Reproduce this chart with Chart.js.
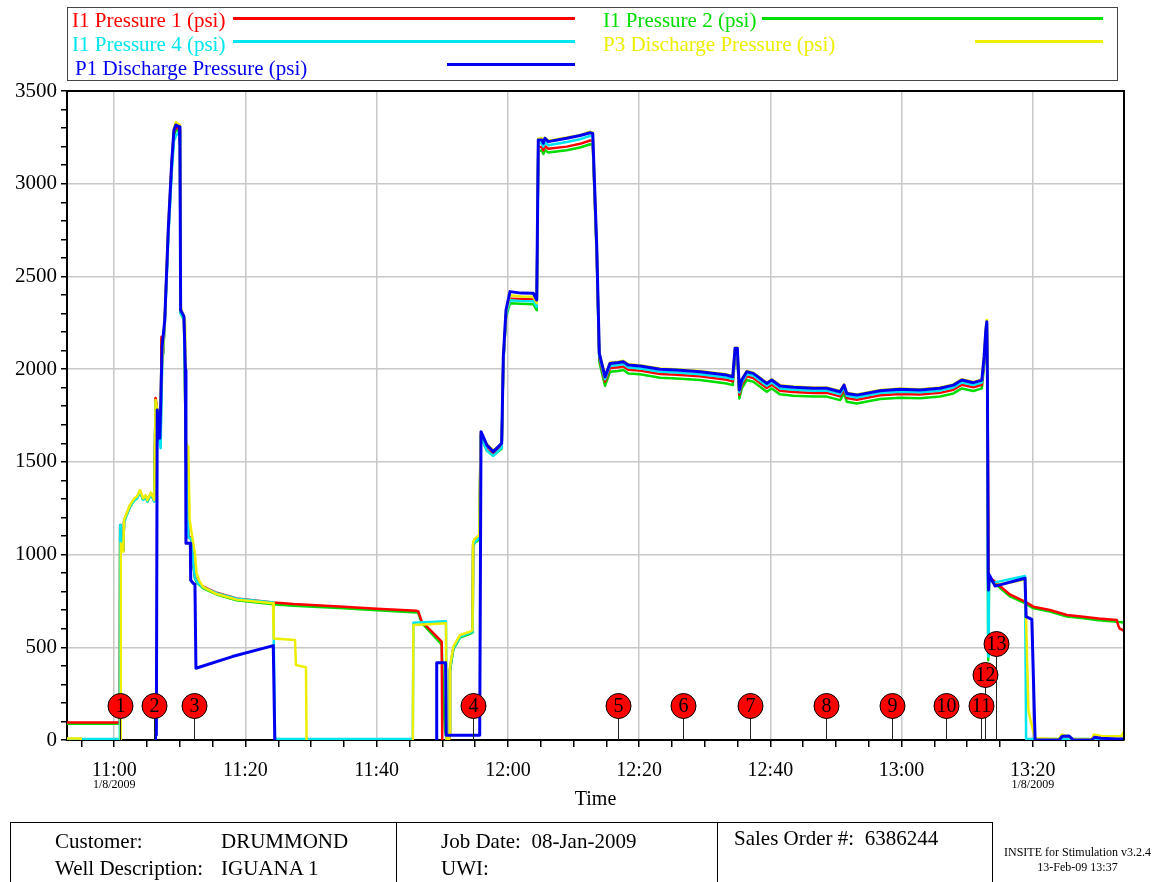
<!DOCTYPE html>
<html>
<head>
<meta charset="utf-8">
<title>Pressure chart</title>
<script src="https://cdn.jsdelivr.net/npm/chart.js@4.4.1/dist/chart.umd.min.js"></script>
<style>
  html, body { margin: 0; padding: 0; background: #fff; overflow: hidden; }
  #page { position: relative; width: 1163px; height: 882px; font-family: "Liberation Serif", "Times New Roman", serif; }
  #chart { position: absolute; left: 0; top: 0; }
  .abs { position: absolute; white-space: nowrap; }
  #legend { position: absolute; left: 67px; top: 7px; width: 1049px; height: 72px; border: 1.5px solid #444; }
  .lg { position: absolute; font-size: 21px; line-height: 24px; }
  .ll { position: absolute; height: 3px; }
  #info { position: absolute; left: 10px; top: 822px; width: 981px; height: 80px; border: 1px solid #000; }
  .cell { position: absolute; top: 0; height: 80px; border-left: 1px solid #000; }
  .it { position: absolute; font-size: 21px; line-height: 24px; }
</style>
</head>
<body>
<div id="page">
  <canvas id="chart" width="1163" height="882"></canvas>

  <div id="legend">
    <span class="lg" style="left:4px;top:0px;color:#ff0000">I1 Pressure 1 (psi)</span>
    <div class="ll" style="left:165px;top:9px;width:342px;background:#ff0000"></div>
    <span class="lg" style="left:535px;top:0px;color:#00dd00">I1 Pressure 2 (psi)</span>
    <div class="ll" style="left:694px;top:9px;width:341px;background:#00dd00"></div>

    <span class="lg" style="left:4px;top:24px;color:#00e5ee">I1 Pressure 4 (psi)</span>
    <div class="ll" style="left:165px;top:32px;width:342px;background:#00e5ee"></div>
    <span class="lg" style="left:535px;top:24px;color:#eeee00">P3 Discharge Pressure (psi)</span>
    <div class="ll" style="left:907px;top:32px;width:128px;background:#eeee00"></div>

    <span class="lg" style="left:7px;top:48px;color:#0000f0">P1 Discharge Pressure (psi)</span>
    <div class="ll" style="left:379px;top:55px;width:128px;background:#0000f0"></div>
  </div>

  <div id="info">
    <span class="it" style="left:44px;top:6px">Customer:</span>
    <span class="it" style="left:210px;top:6px">DRUMMOND</span>
    <span class="it" style="left:44px;top:33px">Well Description:</span>
    <span class="it" style="left:210px;top:33px">IGUANA 1</span>
    <div class="cell" style="left:385px"></div>
    <span class="it" style="left:430px;top:6px">Job Date:&nbsp; 08-Jan-2009</span>
    <span class="it" style="left:430px;top:33px">UWI:</span>
    <div class="cell" style="left:706px"></div>
    <span class="it" style="left:723px;top:3px">Sales Order #:&nbsp; 6386244</span>
  </div>
  <span class="abs" style="left:990px;top:845px;width:175px;text-align:center;font-size:12px;line-height:15px">INSITE for Stimulation v3.2.4<br>13-Feb-09 13:37</span>
</div>

<script>
// time values are minutes since midnight (660 = 11:00)
var xMin = 652.8, xMax = 813.9;

var i1Pressure1 = [
  [652.8,94],[660.85,94],[660.9,1160],[661.0,1075],[661.37,1025],[661.5,1180],[661.8,1210],[662.39,1262],[663.0,1295],[663.5,1310],
  [663.92,1342],[664.4,1300],[664.8,1316],[665.05,1290],[665.6,1330],[666.1,1290],[666.3,1845],[666.55,1780],[666.8,1640],[667.07,1600],
  [667.2,2175],[667.45,2090],[667.7,2265],[668.23,2740],[668.75,3100],[669.1,3280],[669.41,3305],[669.91,3295],[670.02,3195],[670.12,2310],
  [670.63,2275],[670.93,1550],[671.28,1100],[671.8,1085],[672.04,955],[672.3,880],[672.7,852],[673.57,827],[675.61,794],[678.66,763],
  [684.24,742],[687.29,733],[695,718],[700,708],[706.1,697],[706.34,693],[706.86,640],[709.65,540],[709.91,530],[710.0,-60],
  [711.0,-60],[711.07,35],[711.17,385],[711.68,497],[712.7,560],[714.22,580],[714.63,588],[714.7,1055],[714.98,1075],[715.64,1092],
  [715.85,1645],[716.8,1565],[717.77,1540],[719.05,1580],[719.3,2045],[719.71,2290],[720.32,2380],[722,2378],[723.87,2376],[724.39,2342],
  [724.63,3195],[725.15,3200],[725.4,3180],[725.65,3202],[726.16,3188],[728.96,3200],[731,3215],[732.52,3233],[732.93,3230],[733.54,2625],
  [733.93,2060],[734.8,1933],[735.56,2006],[736.83,2010],[737.59,2015],[738.35,1997],[740.14,1992],[743.19,1974],[745.73,1970],[749.28,1961],
  [753.35,1943],[754.27,1934],[754.62,2088],[754.97,2088],[755.27,1862],[755.64,1916],[756.4,1961],[757.41,1952],[758.43,1925],[759.45,1898],
  [760.21,1916],[761.48,1884],[763.51,1877],[766.55,1872],[768.6,1872],[770.63,1853],[771.24,1889],[771.65,1844],[773.17,1835],[776.72,1859],
  [779.77,1866],[782.81,1863],[785.86,1872],[787.9,1889],[789.18,1916],[790.95,1902],[792.23,1916],[792.58,2040],[792.84,2190],[792.99,2235],
  [793.08,1940],[793.3,880],[794.0,860],[796.5,785],[798.8,746],[800.1,719],[802.6,701],[805.2,674],[807.7,665],[810.0,655],
  [812.8,647],[813.0,620],[813.2,602],[813.9,589]
];

var i1Pressure2 = [
  [652.8,88],[660.85,88],[660.9,1150],[661.0,1070],[661.37,1020],[661.5,1175],[661.8,1205],[662.39,1258],[663.0,1290],[663.5,1305],
  [663.92,1340],[664.4,1297],[664.8,1313],[665.05,1287],[665.6,1327],[666.1,1287],[666.3,1840],[666.55,1775],[666.8,1635],[667.07,1595],
  [667.2,2160],[667.45,2080],[667.7,2255],[668.23,2720],[668.75,3080],[669.1,3260],[669.41,3290],[669.91,3285],[670.02,3185],[670.12,2300],
  [670.63,2265],[670.93,1545],[671.28,1095],[671.8,1080],[672.04,950],[672.3,872],[672.7,845],[673.57,818],[675.61,785],[678.66,753],
  [684.24,732],[687.29,724],[695,710],[700,700],[706.1,688],[706.34,685],[706.86,632],[709.65,525],[709.91,510],[710.2,200],
  [710.41,54],[710.67,0],[711.0,0],[711.07,30],[711.17,375],[711.68,488],[712.7,552],[714.22,572],[714.63,580],[714.7,1045],
  [714.98,1065],[715.64,1082],[715.85,1640],[716.8,1560],[717.77,1535],[719.05,1570],[719.3,2030],[719.71,2280],[720.32,2355],[722,2352],
  [723.87,2350],[724.39,2318],[724.63,3175],[725.15,3180],[725.4,3160],[725.65,3182],[726.16,3168],[728.96,3180],[731,3195],[732.52,3213],
  [732.93,3210],[733.54,2605],[733.93,2040],[734.8,1910],[735.56,1986],[736.83,1990],[737.59,1995],[738.35,1977],[740.14,1972],[743.19,1954],
  [745.73,1950],[749.28,1941],[753.35,1923],[754.27,1914],[754.62,2068],[754.97,2068],[755.27,1842],[755.64,1896],[756.4,1941],[757.41,1932],
  [758.43,1905],[759.45,1878],[760.21,1896],[761.48,1864],[763.51,1857],[766.55,1852],[768.6,1852],[770.63,1833],[771.24,1869],[771.65,1824],
  [773.17,1815],[776.72,1839],[779.77,1846],[782.81,1843],[785.86,1852],[787.9,1869],[789.18,1896],[790.95,1882],[792.23,1896],[792.58,2020],
  [792.84,2175],[792.99,2225],[793.08,1930],[793.2,430],[793.35,870],[794.0,850],[796.5,775],[798.8,738],[800.1,710],[802.6,693],
  [805.2,666],[807.7,656],[810.0,646],[812.8,638],[813.9,633]
];

var i1Pressure4 = [
  [652.8,5],[660.85,5],[660.9,1159],[661.0,1080],[661.37,1030],[661.5,1175],[661.8,1205],[662.39,1258],[663.0,1290],[663.5,1305],
  [663.92,1338],[664.4,1295],[664.8,1312],[665.05,1286],[665.6,1325],[666.1,1286],[666.3,1820],[666.6,1700],[667.07,1573],[667.3,2000],
  [667.7,2250],[668.23,2700],[668.75,3050],[669.1,3230],[669.41,3260],[669.91,3280],[670.02,3180],[670.12,2300],[670.63,2270],[670.93,1546],
  [671.28,1097],[671.8,1080],[672.04,953],[672.3,875],[672.7,848],[673.57,823],[675.61,792],[678.66,762],[684.24,741],[684.5,5],
  [705.5,5],[705.6,632],[708,636],[710.56,641],[710.67,5],[711.07,30],[711.17,380],[711.68,493],[712.7,558],[714.22,578],
  [714.63,585],[714.7,1050],[714.98,1070],[715.64,1088],[715.85,1640],[716.8,1560],[717.77,1532],[719.05,1575],[719.3,2040],[719.71,2290],
  [720.32,2372],[722,2368],[723.87,2366],[724.39,2335],[724.63,3215],[725.15,3220],[725.4,3200],[725.65,3222],[726.16,3208],[728.96,3225],
  [731,3240],[732.52,3258],[732.93,3254],[733.54,2640],[733.93,2070],[734.8,1945],[735.56,2018],[736.83,2022],[737.59,2027],[738.35,2009],
  [740.14,2004],[743.19,1986],[745.73,1982],[749.28,1973],[753.35,1955],[754.27,1946],[754.62,2100],[754.97,2100],[755.27,1875],[755.64,1928],
  [756.4,1973],[757.41,1964],[758.43,1937],[759.45,1910],[760.21,1928],[761.48,1896],[763.51,1889],[766.55,1884],[768.6,1884],[770.63,1865],
  [771.24,1900],[771.65,1856],[773.17,1847],[776.72,1871],[779.77,1878],[782.81,1875],[785.86,1884],[787.9,1901],[789.18,1928],[790.95,1914],
  [792.23,1928],[792.58,2055],[792.84,2200],[792.99,2245],[793.08,1950],[793.2,450],[793.3,855],[794.25,850],[798.82,884],[798.98,5],
  [813.9,5]
];

var p3Discharge = [
  [652.8,8],[654.8,8],[654.9,-60],[660.9,-60],[661.0,1061],[661.37,1016],[661.5,1187],[661.8,1215],[662.39,1267],[663.0,1300],
  [663.5,1315],[663.92,1348],[664.4,1303],[664.8,1321],[665.05,1294],[665.6,1334],[666.1,1294],[666.3,1834],[666.55,1780],[666.8,1636],
  [667.3,2031],[667.7,2265],[668.23,2760],[668.75,3120],[669.1,3300],[669.41,3333],[669.91,3318],[670.02,3210],[670.15,2330],[670.8,2260],
  [670.95,1600],[671.28,1582],[671.5,1187],[671.8,1115],[672.3,1007],[672.55,899],[673.0,855],[673.57,825],[675.61,787],[678.66,757],
  [684.2,738],[684.3,548],[687.55,539],[687.7,404],[689.22,392],[689.33,-60],[705.5,-60],[705.6,620],[708,624],[710.56,629],
  [710.67,-60],[710.95,-60],[711.07,37],[711.17,395],[711.68,503],[712.7,566],[714.22,584],[714.6,592],[714.7,1069],[714.98,1087],
  [715.64,1105],[715.85,1660],[716.8,1595],[717.77,1562],[719.05,1598],[719.3,2063],[719.71,2305],[720.32,2398],[722,2392],[723.87,2390],
  [724.39,2356],[724.63,3242],[725.15,3246],[725.4,3228],[725.65,3247],[726.16,3232],[728.96,3250],[731,3262],[732.52,3280],[732.93,3275],
  [733.54,2655],[733.93,2090],[734.8,1962],[735.56,2036],[736.83,2040],[737.59,2045],[738.35,2026],[740.14,2021],[743.19,2003],[745.73,1999],
  [749.28,1990],[753.35,1972],[754.27,1963],[754.62,2116],[754.97,2116],[755.27,1892],[755.64,1945],[756.4,1990],[757.41,1981],[758.43,1954],
  [759.45,1927],[760.21,1945],[761.48,1913],[763.51,1906],[766.55,1901],[768.6,1901],[770.63,1882],[771.24,1918],[771.65,1873],[773.17,1864],
  [776.72,1888],[779.77,1896],[782.81,1892],[785.86,1901],[787.9,1918],[789.18,1946],[790.95,1931],[792.23,1945],[792.58,2072],[792.84,2218],
  [792.99,2265],[793.08,1965],[793.2,900],[793.38,880],[794.25,835],[798.82,866],[798.98,647],[799.33,162],[799.7,99],[800.35,9],
  [804.0,5],[804.4,30],[805.2,20],[806.3,5],[809.0,5],[809.3,30],[810.5,22],[812.8,20],[813.5,20],[813.9,45]
];

var p1Discharge = [
  [652.8,-60],[666.25,-60],[666.3,27],[666.42,27],[666.55,1780],[666.95,1627],[667.3,2121],[667.7,2265],[668.23,2750],[668.75,3110],
  [669.1,3290],[669.41,3317],[669.91,3307],[670.02,3200],[670.12,2319],[670.63,2283],[670.85,1995],[670.93,1061],[671.6,1061],[671.65,863],
  [672.04,845],[672.3,840],[672.45,387],[678,450],[684.24,509],[684.5,-60],[709.1,-60],[709.15,417],[710.5,417],[710.6,25],
  [715.7,25],[715.9,1663],[716.8,1590],[717.77,1555],[719.05,1600],[719.3,2067],[719.71,2319],[720.32,2418],[722,2410],[723.87,2409],
  [724.39,2373],[724.63,3236],[725.15,3236],[725.4,3218],[725.65,3245],[726.16,3227],[728.96,3245],[731,3260],[732.52,3275],[732.93,3271],
  [733.54,2660],[733.93,2085],[734.8,1959],[735.56,2031],[736.83,2036],[737.59,2040],[738.35,2022],[740.14,2017],[743.19,1999],[745.73,1995],
  [749.28,1986],[753.35,1968],[754.27,1959],[754.62,2112],[754.97,2112],[755.27,1888],[755.64,1941],[756.4,1986],[757.41,1977],[758.43,1950],
  [759.45,1923],[760.21,1941],[761.48,1909],[763.51,1902],[766.55,1897],[768.6,1897],[770.63,1878],[771.24,1914],[771.65,1869],[773.17,1860],
  [776.72,1884],[779.77,1891],[782.81,1888],[785.86,1897],[787.9,1914],[789.18,1941],[790.95,1927],[792.23,1941],[792.58,2067],[792.84,2211],
  [792.99,2256],[793.08,1959],[793.2,899],[793.25,809],[793.38,890],[794.25,830],[798.82,872],[798.98,665],[799.85,651],[800.35,0],
  [804.0,0],[804.5,20],[805.5,22],[806.2,0],[809.0,0],[809.4,15],[810.4,10],[812.8,5],[813.9,5]
];

// numbered event markers
var eventTimes = [660.91, 666.10, 672.20, 714.73, 736.78, 746.69, 756.91, 768.49, 778.55, 786.83, 792.16, 792.77, 794.45];
var eventLabels = ['1','2','3','4','5','6','7','8','9','10','11','12','13'];
var eventRows = [0,0,0,0,0,0,0,0,0,0,0,1,2];

// x ticks every 5 min, labelled every 20 min
var xTickValues = [];
for (var m = 655; m <= 810; m += 5) xTickValues.push(m);
var yTickValues = [];
for (var v = 0; v <= 3500; v += 100) yTickValues.push(v);
var dateTicks = [660, 800];
var dateLabel = '1/8/2009';

function fmtTime(m) {
  var h = Math.floor(m / 60), mm = m % 60;
  return h + ':' + (mm < 10 ? '0' : '') + mm;
}

var extras = {
  id: 'extras',
  afterDatasetsDraw: function(chart) {
    var ctx = chart.ctx, a = chart.chartArea, xs = chart.scales.x;
    ctx.save();
    // top and right frame
    ctx.strokeStyle = '#000';
    ctx.lineWidth = 2;
    ctx.beginPath();
    ctx.moveTo(a.left, a.top);
    ctx.lineTo(a.right, a.top);
    ctx.lineTo(a.right, a.bottom);
    ctx.stroke();

    // event stems first, then the circles
    ctx.lineWidth = 1;
    ctx.strokeStyle = '#222';
    var pts = eventTimes.map(function(t, i) {
      return { x: Math.round(xs.getPixelForValue(t)) + 0.5, y: a.bottom - 34 - eventRows[i] * 31 };
    });
    pts.forEach(function(p) {
      ctx.beginPath();
      ctx.moveTo(p.x, p.y + 12);
      ctx.lineTo(p.x, a.bottom);
      ctx.stroke();
    });
    ctx.font = '20px "Liberation Serif"';
    ctx.textAlign = 'center';
    ctx.textBaseline = 'middle';
    pts.forEach(function(p, i) {
      ctx.beginPath();
      ctx.arc(p.x, p.y, 12.5, 0, Math.PI * 2);
      ctx.fillStyle = '#ff0000';
      ctx.fill();
      ctx.strokeStyle = '#000';
      ctx.stroke();
      ctx.fillStyle = '#000';
      ctx.fillText(eventLabels[i], p.x, p.y + 1);
    });
    ctx.restore();
  },
  afterDraw: function(chart) {
    var ctx = chart.ctx, xs = chart.scales.x;
    ctx.save();
    ctx.font = '12px "Liberation Serif"';
    ctx.fillStyle = '#000';
    ctx.textAlign = 'center';
    ctx.textBaseline = 'middle';
    dateTicks.forEach(function(t) {
      ctx.fillText(dateLabel, xs.getPixelForValue(t), 785);
    });
    ctx.restore();
  }
};

function line(label, data, color, width) {
  return {
    label: label,
    data: data,
    borderColor: color,
    backgroundColor: color,
    borderWidth: width,
    pointRadius: 0,
    fill: false,
    tension: 0,
    borderJoinStyle: 'round'
  };
}

var ctx = document.getElementById('chart').getContext('2d');
var chart = new Chart(ctx, {
  type: 'line',
  data: {
    // first dataset is painted on top
    datasets: [
      line('P1 Discharge Pressure (psi)', p1Discharge, '#0000f0', 3),
      line('P3 Discharge Pressure (psi)', p3Discharge, '#eeee00', 2.5),
      line('I1 Pressure 4 (psi)', i1Pressure4, '#00e5ee', 2.5),
      line('I1 Pressure 1 (psi)', i1Pressure1, '#ff0000', 2.5),
      line('I1 Pressure 2 (psi)', i1Pressure2, '#00dd00', 2.5)
    ]
  },
  options: {
    responsive: false,
    animation: false,
    devicePixelRatio: 1,
    layout: { padding: { top: 91, right: 39, bottom: 70, left: 0 } },
    plugins: { legend: { display: false }, tooltip: { enabled: false } },
    scales: {
      x: {
        type: 'linear',
        min: xMin,
        max: xMax,
        afterBuildTicks: function(scale) {
          scale.ticks = xTickValues.map(function(v) { return { value: v }; });
        },
        afterFit: function(scale) { scale.height = 72; },
        ticks: {
          autoSkip: false,
          maxRotation: 0,
          padding: 12,
          color: '#000',
          font: { family: 'Liberation Serif', size: 20 },
          callback: function(value) { return value % 20 === 0 ? fmtTime(value) : ''; }
        },
        grid: {
          color: function(c) { return c.tick && c.tick.value % 20 === 0 ? '#c8c8c8' : 'rgba(0,0,0,0)'; },
          lineWidth: 1.5,
          tickColor: '#000',
          tickLength: 7
        },
        border: { color: '#000', width: 2 },
        title: {
          display: true,
          text: 'Time',
          color: '#000',
          font: { family: 'Liberation Serif', size: 20 },
          padding: 0
        }
      },
      y: {
        min: 0,
        max: 3500,
        afterBuildTicks: function(scale) {
          scale.ticks = yTickValues.map(function(v) { return { value: v }; });
        },
        afterFit: function(scale) { scale.width = 67; },
        ticks: {
          autoSkip: false,
          padding: 4,
          color: '#000',
          font: { family: 'Liberation Serif', size: 21 },
          callback: function(value) { return value % 500 === 0 ? value : ''; }
        },
        grid: {
          color: function(c) {
            var v = c.tick ? c.tick.value : -1;
            return (v % 500 === 0 && v > 0 && v < 3500) ? '#c8c8c8' : 'rgba(0,0,0,0)';
          },
          lineWidth: 1.5,
          tickColor: '#000',
          tickLength: 6
        },
        border: { color: '#000', width: 2 }
      }
    }
  },
  plugins: [extras]
});
</script>
</body>
</html>
